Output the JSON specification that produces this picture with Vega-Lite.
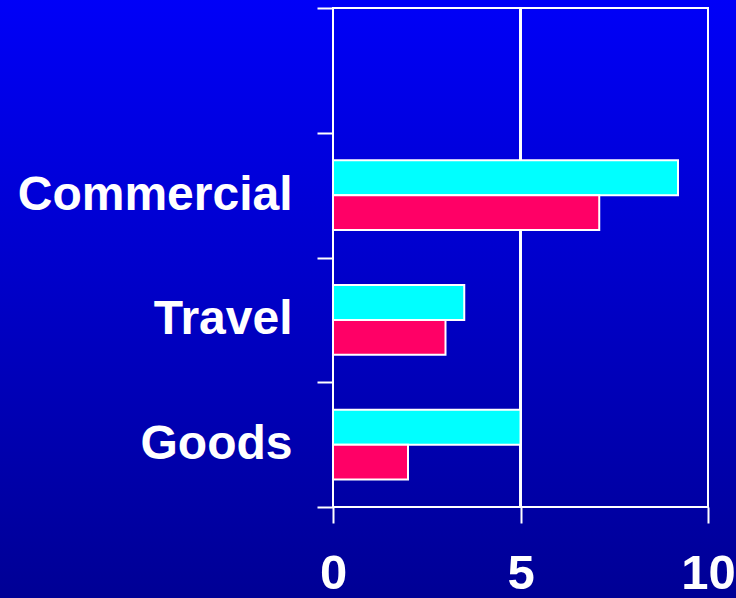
{
  "$schema": "https://vega.github.io/schema/vega-lite/v6.json",
  "autosize": "none",
  "padding": {"left": 333, "top": 8, "right": 28, "bottom": 91},
  "width": 375,
  "height": 499,
  "background": "#0000c4",
  "config": {"view": {"stroke": null}},
  "data": {
    "values": [
      {"category": "Commercial", "series": "A", "value": 9.2},
      {"category": "Commercial", "series": "B", "value": 7.1},
      {"category": "Travel", "series": "A", "value": 3.5},
      {"category": "Travel", "series": "B", "value": 3.0},
      {"category": "Goods", "series": "A", "value": 5.0},
      {"category": "Goods", "series": "B", "value": 2.0}
    ]
  },
  "resolve": {"scale": {"y": "independent"}},
  "layer": [
    {
      "mark": {
        "type": "rect",
        "clip": false,
        "color": {
          "gradient": "linear",
          "x1": 0, "y1": 0, "x2": 0, "y2": 1,
          "stops": [
            {"offset": 0, "color": "#0000f8"},
            {"offset": 1, "color": "#000094"}
          ]
        }
      },
      "encoding": {
        "x": {"datum": -8.9, "type": "quantitative", "scale": {"domain": [0, 10], "nice": false}, "axis": {
          "values": [0, 5, 10],
          "grid": false,
          "domain": false,
          "ticks": true,
          "tickColor": "white",
          "tickSize": 16,
          "tickWidth": 2,
          "labelFont": "Liberation Sans",
          "labelFontWeight": "bold",
          "labelFontSize": 49,
          "labelColor": "white",
          "labelPadding": 26,
          "labelFlush": false,
          "labelOverlap": false,
          "title": null,
          "zindex": 1
        }},
        "x2": {"datum": 10.8},
        "y": {"datum": -0.19, "type": "quantitative", "scale": {"domain": [0, 1], "nice": false, "zero": false}, "axis": null},
        "y2": {"datum": 1.02}
      }
    },
    {
      "mark": {"type": "rule", "color": "white", "strokeWidth": 2},
      "encoding": {
        "x": {"datum": 5, "type": "quantitative"},
        "y": {"datum": 0, "type": "quantitative", "scale": {"domain": [0, 1], "nice": false}, "axis": null},
        "y2": {"datum": 1}
      }
    },
    {
      "mark": {"type": "bar", "stroke": "white", "strokeWidth": 2},
      "encoding": {
        "y": {
          "field": "category",
          "type": "nominal",
          "scale": {"domain": [" ", "Commercial", "Travel", "Goods"], "paddingInner": 0, "paddingOuter": 0},
          "axis": {
            "orient": "left",
            "domain": false,
            "ticks": true,
            "tickBand": "extent",
            "tickColor": "white",
            "tickSize": 16,
            "tickWidth": 2,
            "labelFont": "Liberation Sans",
            "labelFontWeight": "bold",
            "labelFontSize": 48,
            "labelColor": "white",
            "labelPadding": 25,
            "labelLimit": 0,
            "title": null,
            "zindex": 1
          }
        },
        "yOffset": {
          "field": "series",
          "type": "nominal",
          "scale": {"domain": ["A", "B"], "paddingInner": 0, "paddingOuter": 0.786}
        },
        "x": {"field": "value", "type": "quantitative"},
        "color": {
          "field": "series",
          "type": "nominal",
          "scale": {"domain": ["A", "B"], "range": ["#00ffff", "#ff0066"]},
          "legend": null
        }
      }
    },
    {
      "mark": {"type": "rect", "fill": null, "filled": false, "stroke": "white", "strokeWidth": 2},
      "encoding": {
        "x": {"datum": 0, "type": "quantitative"},
        "x2": {"datum": 10},
        "y": {"datum": 0, "type": "quantitative", "scale": {"domain": [0, 1], "nice": false}, "axis": null},
        "y2": {"datum": 1}
      }
    }
  ]
}
